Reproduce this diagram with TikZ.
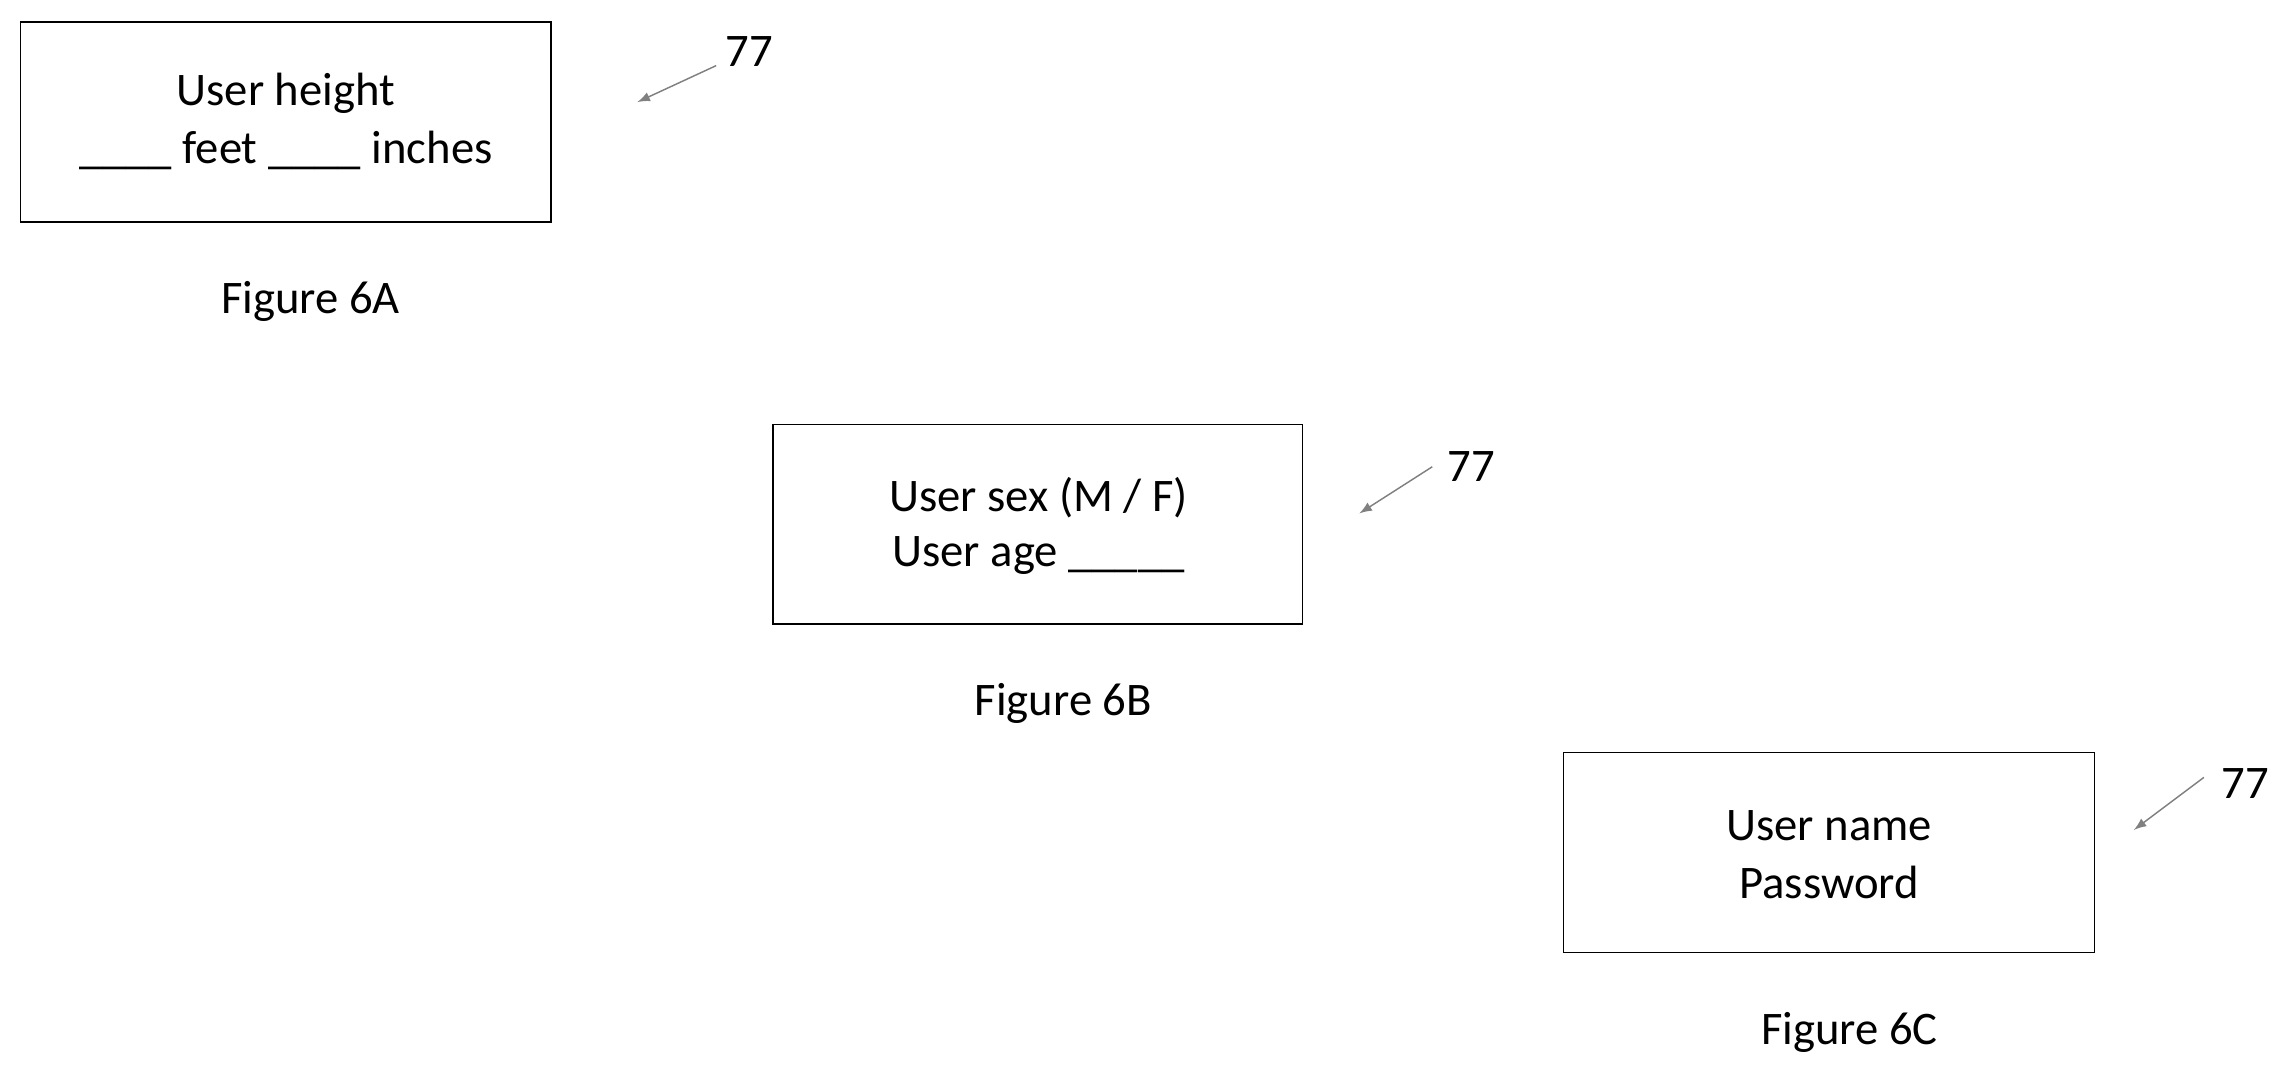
\documentclass[tikz,border=0pt]{standalone}
\usepackage{fontspec}
\setmainfont{Carlito}
\begin{document}
\begin{tikzpicture}[x=0.5pt,y=-0.5pt,
  box/.style={draw,line width=0.6pt},
  txt/.style={font=\fontsize{16}{18}\selectfont,inner sep=0pt},
  ref/.style={draw=gray,line width=0.5pt,-{latex}}]
\useasboundingbox (0,0) rectangle (1568,738);
% 6A
\draw[box] (14,15) rectangle (378,152);
\node[txt] (a1) at (196,64) {User height};
\node[txt] (a2) at (196,103) {\_\_\_\_ feet \_\_\_\_ inches};
\node[txt] (ca) at (213,207) {Figure 6A};
\node[txt,anchor=west] (la) at (497,35) {77};
\coordinate (ta) at (437,70);
\draw[ref] (la.west)++(-6,10) -- (ta);
% 6B
\draw[box] (530,291) rectangle (893,428);
\node[txt] (b1) at (712,341) {User sex (M / F)};
\node[txt] (b2) at (712,381) {User age \_\_\_\_\_};
\node[txt] (cb) at (729,482) {Figure 6B};
\node[txt,anchor=west] (lb) at (992,320) {77};
\coordinate (tb) at (932,352);
\draw[ref] (lb.west)++(-10,0) -- (tb);
% 6C
\draw[box] (1072,516) rectangle (1436,653);
\node[txt] (c1) at (1254,566) {User name};
\node[txt] (c2) at (1254,605) {Password};
\node[txt] (cc) at (1268,708) {Figure 6C};
\node[txt,anchor=west] (lc) at (1523,537) {77};
\coordinate (tc) at (1463,569);
\draw[ref] (lc.west)++(-12,-4) -- (tc);
\end{tikzpicture}
\end{document}
